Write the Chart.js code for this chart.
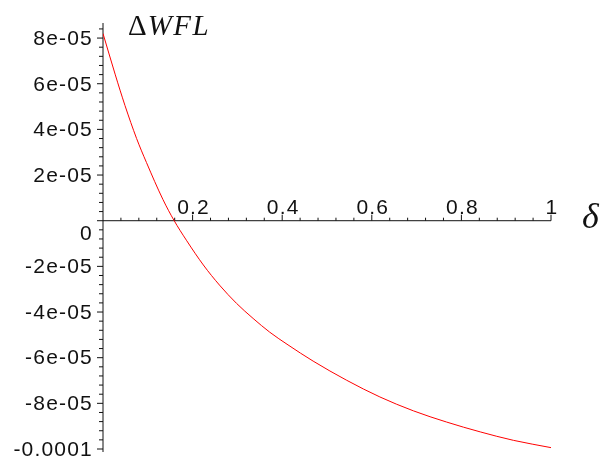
<!DOCTYPE html>
<html>
<head>
<meta charset="utf-8">
<script src="https://cdn.jsdelivr.net/npm/chart.js@4.4.0/dist/chart.umd.min.js"></script>
<style>
  html, body { margin: 0; padding: 0; background: #fff; }
  #wrap { width: 605px; height: 459px; }
</style>
</head>
<body>
<div id="wrap"><canvas id="grafico" width="605" height="459"></canvas></div>
<script>
// Points (delta, Delta WFL)
const delta = [0, 0.027, 0.049, 0.075, 0.097, 0.134, 0.158, 0.187, 0.224, 0.26, 0.298,
               0.335, 0.372, 0.413, 0.469, 0.544, 0.618, 0.693, 0.767, 0.842, 0.916, 1];
const dWFL = [8.2e-5, 6.42e-5, 5.05e-5, 3.6e-5, 2.55e-5, 0.92e-5, 0.03e-5, -0.88e-5,
              -1.94e-5, -2.82e-5, -3.62e-5, -4.28e-5, -4.88e-5, -5.44e-5, -6.15e-5, -6.99e-5,
              -7.72e-5, -8.33e-5, -8.82e-5, -9.25e-5, -9.62e-5, -9.94e-5];

// Tick values and labels
const xTickValues = [0.2, 0.4, 0.6, 0.8, 1];
const xTickLabels = ['0.2', '0.4', '0.6', '0.8', '1'];
const yTickValues = [8e-5, 6e-5, 4e-5, 2e-5, 0, -2e-5, -4e-5, -6e-5, -8e-5, -1e-4];
const yTickLabels = ['8e-05', '6e-05', '4e-05', '2e-05', '0', '-2e-05', '-4e-05', '-6e-05', '-8e-05', '-0.0001'];
const xMinorStep = 0.04;
const yMinorStep = 4e-6;

// Axes crossing at the origin, drawn with the chart's own scales
const axesPlugin = {
  id: 'mapleAxes',
  beforeDatasetsDraw(chart) {
    const ctx = chart.ctx;
    const xs = chart.scales.x;
    const ys = chart.scales.y;
    const x0 = xs.getPixelForValue(0);
    const y0 = ys.getPixelForValue(0);
    const x1 = xs.getPixelForValue(1);

    ctx.save();
    ctx.strokeStyle = '#111';
    ctx.lineWidth = 1;
    ctx.beginPath();
    ctx.moveTo(x0, chart.chartArea.top);
    ctx.lineTo(x0, ys.getPixelForValue(-1e-4) + 3);
    ctx.moveTo(x0, y0);
    ctx.lineTo(x1, y0);

    // ticks on x (upwards), every 5th one longer
    for (let k = 1; k * xMinorStep <= 1 + 1e-9; k++) {
      const px = xs.getPixelForValue(k * xMinorStep);
      const len = (k % 5 === 0) ? 6 : 3;
      ctx.moveTo(px, y0);
      ctx.lineTo(px, y0 - len);
    }
    // ticks on y (to the left)
    for (let k = -25; k * yMinorStep <= ys.max; k++) {
      const py = ys.getPixelForValue(k * yMinorStep);
      const len = (k % 5 === 0) ? 6 : 4;
      ctx.moveTo(x0, py);
      ctx.lineTo(x0 - len, py);
    }
    ctx.stroke();

    // tick labels
    ctx.fillStyle = '#111';
    ctx.font = '21px "Liberation Sans", Arial, sans-serif';
    ctx.letterSpacing = '1.2px';
    ctx.textAlign = 'center';
    ctx.textBaseline = 'alphabetic';
    xTickValues.forEach((v, i) => {
      ctx.fillText(xTickLabels[i], xs.getPixelForValue(v) + 1, y0 - 7);
    });
    ctx.textAlign = 'right';
    ctx.textBaseline = 'middle';
    yTickValues.forEach((v, i) => {
      const py = ys.getPixelForValue(v) + (v === 0 ? 13 : 1);
      ctx.fillText(yTickLabels[i], x0 - 10, py);
    });

    // axis titles
    ctx.textAlign = 'left';
    ctx.textBaseline = 'alphabetic';
    ctx.letterSpacing = '0px';
    ctx.font = '29px "Liberation Serif", "Times New Roman", serif';
    const tx = x0 + 25;
    const ty = chart.chartArea.top + 12;
    ctx.fillText('\u0394', tx, ty);
    const dw = ctx.measureText('\u0394').width;
    ctx.letterSpacing = '1.5px';
    ctx.font = 'italic 29px "Liberation Serif", "Times New Roman", serif';
    ctx.fillText('WFL', tx + dw + 1, ty);
    ctx.letterSpacing = '0px';
    ctx.font = 'italic 36px "Liberation Serif", "Times New Roman", serif';
    ctx.fillText('\u03B4', x1 + 31, y0 + 7);
    ctx.restore();
  }
};

function renderChart() {
  const ctx = document.getElementById('grafico').getContext('2d');
  new Chart(ctx, {
    type: 'scatter',
    data: {
      datasets: [{
        data: delta.map((d, i) => ({ x: d, y: dWFL[i] })),
        showLine: true,
        borderColor: '#ff0000',
        borderWidth: 1,
        pointRadius: 0,
        cubicInterpolationMode: 'monotone'
      }]
    },
    options: {
      responsive: false,
      animation: false,
      layout: { padding: { left: 103, right: 54, top: 23, bottom: 10 } },
      scales: {
        x: { type: 'linear', min: 0, max: 1, display: false },
        y: { type: 'linear', min: -1e-4, max: 8.66e-5, display: false }
      },
      plugins: {
        legend: { display: false },
        tooltip: { enabled: false }
      }
    },
    plugins: [axesPlugin]
  });
}

document.addEventListener('DOMContentLoaded', renderChart);
</script>
</body>
</html>
